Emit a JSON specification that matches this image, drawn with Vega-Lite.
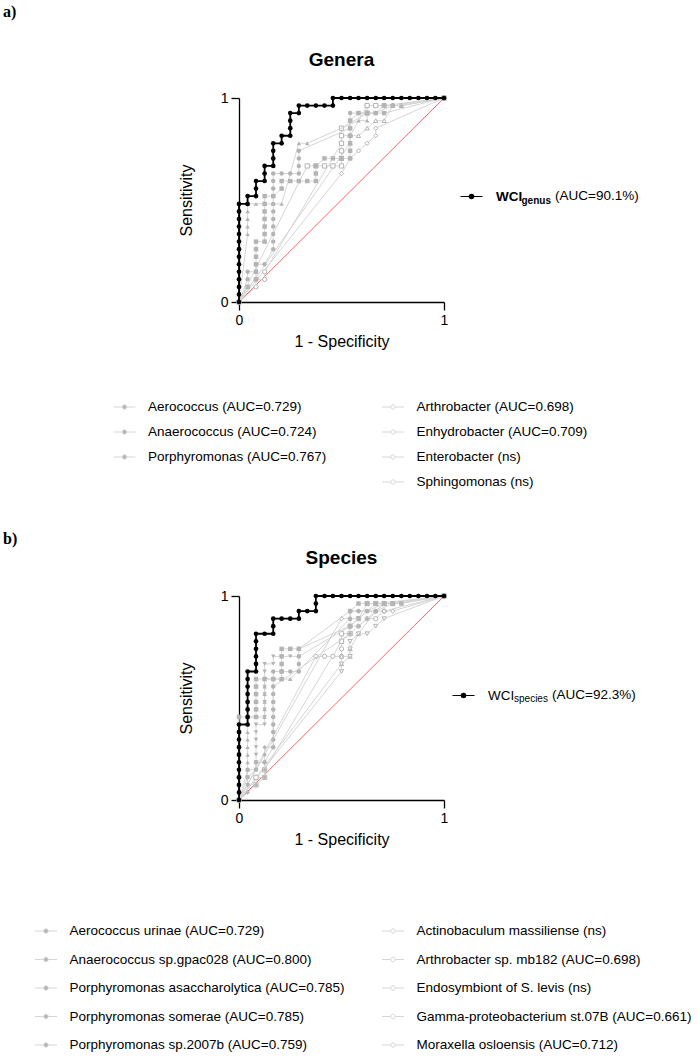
{
"$schema": "https://vega.github.io/schema/vega-lite/v6.json",
"padding": {"left": 3, "top": 4, "right": 0, "bottom": 0},
"background": "white",
"config": {
  "font": "Liberation Sans",
  "view": {"stroke": null},
  "axis": {"grid": false, "domainColor": "black", "domainWidth": 1.3, "tickColor": "black", "tickWidth": 1.3, "tickSize": 8, "labelPadding": 3, "labelFont": "Liberation Sans", "labelFontSize": 14, "labelColor": "black", "labelFlush": false, "labelOverlap": false, "titleFont": "Liberation Sans", "titleFontSize": 16, "titleFontWeight": "normal", "titleColor": "black"},
  "axisX": {"titlePadding": 6},
  "axisY": {"titlePadding": 26},
  "legend": {"padding": 0, "labelFont": "Liberation Sans", "labelFontSize": 13.5, "labelColor": "black", "labelLimit": 400, "labelOffset": 12, "columns": 1, "direction": "vertical", "symbolOpacity": 1}
},
"datasets": {
"names": [
 {"s":"aW","name":"WCI","grp":"aW"},
 {"s":"aL1","name":"Aerococcus (AUC=0.729)","grp":"aL"},
 {"s":"aL2","name":"Anaerococcus (AUC=0.724)","grp":"aL"},
 {"s":"aL3","name":"Porphyromonas (AUC=0.767)","grp":"aL"},
 {"s":"aR1","name":"Arthrobacter (AUC=0.698)","grp":"aR"},
 {"s":"aR2","name":"Enhydrobacter (AUC=0.709)","grp":"aR"},
 {"s":"aR3","name":"Enterobacter (ns)","grp":"aR"},
 {"s":"aR4","name":"Sphingomonas (ns)","grp":"aR"},
 {"s":"bW","name":"WCI","grp":"bW"},
 {"s":"bL1","name":"Aerococcus urinae (AUC=0.729)","grp":"bL"},
 {"s":"bL2","name":"Anaerococcus sp.gpac028 (AUC=0.800)","grp":"bL"},
 {"s":"bL3","name":"Porphyromonas asaccharolytica (AUC=0.785)","grp":"bL"},
 {"s":"bL4","name":"Porphyromonas somerae (AUC=0.785)","grp":"bL"},
 {"s":"bL5","name":"Porphyromonas sp.2007b (AUC=0.759)","grp":"bL"},
 {"s":"bR1","name":"Actinobaculum massiliense (ns)","grp":"bR"},
 {"s":"bR2","name":"Arthrobacter sp. mb182 (AUC=0.698)","grp":"bR"},
 {"s":"bR3","name":"Endosymbiont of S. levis (ns)","grp":"bR"},
 {"s":"bR4","name":"Gamma-proteobacterium st.07B (AUC=0.661)","grp":"bR"},
 {"s":"bR5","name":"Moraxella osloensis (AUC=0.712)","grp":"bR"}
],
"pts": [
{"s":"aW","x":0,"y":0},{"s":"aW","x":0,"y":0.037},{"s":"aW","x":0,"y":0.074},{"s":"aW","x":0,"y":0.111},{"s":"aW","x":0,"y":0.148},{"s":"aW","x":0,"y":0.185},{"s":"aW","x":0,"y":0.222},{"s":"aW","x":0,"y":0.259},{"s":"aW","x":0,"y":0.296},{"s":"aW","x":0,"y":0.333},{"s":"aW","x":0,"y":0.37},{"s":"aW","x":0,"y":0.407},{"s":"aW","x":0,"y":0.444},{"s":"aW","x":0,"y":0.481},
{"s":"aW","x":0.042,"y":0.481},{"s":"aW","x":0.042,"y":0.519},
{"s":"aW","x":0.083,"y":0.519},{"s":"aW","x":0.083,"y":0.556},{"s":"aW","x":0.083,"y":0.593},
{"s":"aW","x":0.125,"y":0.593},{"s":"aW","x":0.125,"y":0.63},{"s":"aW","x":0.125,"y":0.667},
{"s":"aW","x":0.167,"y":0.667},{"s":"aW","x":0.167,"y":0.704},{"s":"aW","x":0.167,"y":0.741},{"s":"aW","x":0.167,"y":0.778},
{"s":"aW","x":0.208,"y":0.778},{"s":"aW","x":0.208,"y":0.815},
{"s":"aW","x":0.25,"y":0.815},{"s":"aW","x":0.25,"y":0.852},{"s":"aW","x":0.25,"y":0.889},{"s":"aW","x":0.25,"y":0.926},
{"s":"aW","x":0.292,"y":0.926},{"s":"aW","x":0.292,"y":0.963},
{"s":"aW","x":0.333,"y":0.963},{"s":"aW","x":0.375,"y":0.963},{"s":"aW","x":0.417,"y":0.963},{"s":"aW","x":0.458,"y":0.963},{"s":"aW","x":0.458,"y":1},
{"s":"aW","x":0.5,"y":1},{"s":"aW","x":0.542,"y":1},{"s":"aW","x":0.583,"y":1},{"s":"aW","x":0.625,"y":1},{"s":"aW","x":0.667,"y":1},{"s":"aW","x":0.708,"y":1},{"s":"aW","x":0.75,"y":1},{"s":"aW","x":0.792,"y":1},{"s":"aW","x":0.833,"y":1},{"s":"aW","x":0.875,"y":1},{"s":"aW","x":0.917,"y":1},{"s":"aW","x":0.958,"y":1},{"s":"aW","x":1,"y":1},

{"s":"aL1","x":0,"y":0},{"s":"aL1","x":0.042,"y":0.111},{"s":"aL1","x":0.042,"y":0.148},{"s":"aL1","x":0.083,"y":0.148},{"s":"aL1","x":0.083,"y":0.185},{"s":"aL1","x":0.125,"y":0.185},{"s":"aL1","x":0.167,"y":0.259},{"s":"aL1","x":0.167,"y":0.296},{"s":"aL1","x":0.167,"y":0.333},{"s":"aL1","x":0.167,"y":0.37},{"s":"aL1","x":0.167,"y":0.407},{"s":"aL1","x":0.167,"y":0.444},{"s":"aL1","x":0.167,"y":0.481},{"s":"aL1","x":0.167,"y":0.519},{"s":"aL1","x":0.167,"y":0.556},{"s":"aL1","x":0.167,"y":0.593},{"s":"aL1","x":0.167,"y":0.63},{"s":"aL1","x":0.208,"y":0.63},{"s":"aL1","x":0.25,"y":0.63},{"s":"aL1","x":0.292,"y":0.63},{"s":"aL1","x":0.292,"y":0.667},{"s":"aL1","x":0.292,"y":0.704},{"s":"aL1","x":0.292,"y":0.741},{"s":"aL1","x":0.542,"y":0.852},{"s":"aL1","x":0.542,"y":0.889},{"s":"aL1","x":0.542,"y":0.926},{"s":"aL1","x":0.583,"y":0.926},{"s":"aL1","x":0.625,"y":0.926},{"s":"aL1","x":0.667,"y":0.926},{"s":"aL1","x":0.708,"y":0.963},{"s":"aL1","x":0.75,"y":0.963},{"s":"aL1","x":1,"y":1},

{"s":"aL2","x":0,"y":0},{"s":"aL2","x":0.042,"y":0.074},{"s":"aL2","x":0.083,"y":0.111},{"s":"aL2","x":0.083,"y":0.148},{"s":"aL2","x":0.083,"y":0.185},{"s":"aL2","x":0.083,"y":0.222},{"s":"aL2","x":0.083,"y":0.259},{"s":"aL2","x":0.083,"y":0.296},{"s":"aL2","x":0.125,"y":0.296},{"s":"aL2","x":0.125,"y":0.333},{"s":"aL2","x":0.125,"y":0.37},{"s":"aL2","x":0.125,"y":0.407},{"s":"aL2","x":0.125,"y":0.444},{"s":"aL2","x":0.125,"y":0.481},{"s":"aL2","x":0.125,"y":0.519},{"s":"aL2","x":0.167,"y":0.519},{"s":"aL2","x":0.208,"y":0.556},{"s":"aL2","x":0.208,"y":0.593},{"s":"aL2","x":0.25,"y":0.593},{"s":"aL2","x":0.292,"y":0.593},{"s":"aL2","x":0.333,"y":0.593},{"s":"aL2","x":0.375,"y":0.593},{"s":"aL2","x":0.375,"y":0.63},{"s":"aL2","x":0.375,"y":0.667},{"s":"aL2","x":0.417,"y":0.704},{"s":"aL2","x":0.458,"y":0.704},{"s":"aL2","x":0.5,"y":0.704},{"s":"aL2","x":0.542,"y":0.704},{"s":"aL2","x":0.542,"y":0.741},{"s":"aL2","x":0.542,"y":0.778},{"s":"aL2","x":0.542,"y":0.815},{"s":"aL2","x":0.542,"y":0.852},{"s":"aL2","x":0.542,"y":0.889},{"s":"aL2","x":0.583,"y":0.926},{"s":"aL2","x":0.625,"y":0.926},{"s":"aL2","x":0.667,"y":0.926},{"s":"aL2","x":0.708,"y":0.926},{"s":"aL2","x":1,"y":1},

{"s":"aL3","x":0,"y":0},{"s":"aL3","x":0.042,"y":0.333},{"s":"aL3","x":0.042,"y":0.37},{"s":"aL3","x":0.042,"y":0.407},{"s":"aL3","x":0.042,"y":0.444},{"s":"aL3","x":0.042,"y":0.481},{"s":"aL3","x":0.083,"y":0.481},{"s":"aL3","x":0.125,"y":0.481},{"s":"aL3","x":0.167,"y":0.481},{"s":"aL3","x":0.208,"y":0.481},{"s":"aL3","x":0.292,"y":0.778},{"s":"aL3","x":0.333,"y":0.778},{"s":"aL3","x":0.583,"y":0.889},{"s":"aL3","x":0.625,"y":0.889},{"s":"aL3","x":0.625,"y":0.926},{"s":"aL3","x":0.667,"y":0.926},{"s":"aL3","x":0.75,"y":0.963},{"s":"aL3","x":0.792,"y":0.963},{"s":"aL3","x":1,"y":1},

{"s":"aR1","x":0,"y":0},{"s":"aR1","x":0.083,"y":0.074},{"s":"aR1","x":0.083,"y":0.111},{"s":"aR1","x":0.125,"y":0.111},{"s":"aR1","x":0.125,"y":0.148},{"s":"aR1","x":0.5,"y":0.778},{"s":"aR1","x":0.5,"y":0.815},{"s":"aR1","x":0.542,"y":0.815},{"s":"aR1","x":0.625,"y":0.963},{"s":"aR1","x":0.667,"y":0.963},{"s":"aR1","x":0.708,"y":0.963},{"s":"aR1","x":0.75,"y":0.963},{"s":"aR1","x":0.792,"y":0.963},{"s":"aR1","x":1,"y":1},

{"s":"aR2","x":0,"y":0},{"s":"aR2","x":0.333,"y":0.667},{"s":"aR2","x":0.375,"y":0.667},{"s":"aR2","x":0.417,"y":0.667},{"s":"aR2","x":0.458,"y":0.667},{"s":"aR2","x":0.5,"y":0.667},{"s":"aR2","x":0.5,"y":0.704},{"s":"aR2","x":0.5,"y":0.741},{"s":"aR2","x":0.5,"y":0.778},{"s":"aR2","x":0.5,"y":0.815},{"s":"aR2","x":0.5,"y":0.852},{"s":"aR2","x":0.625,"y":0.926},{"s":"aR2","x":0.625,"y":0.963},{"s":"aR2","x":0.667,"y":0.963},{"s":"aR2","x":0.708,"y":0.963},{"s":"aR2","x":1,"y":1},

{"s":"aR3","x":0,"y":0},{"s":"aR3","x":0.542,"y":0.778},{"s":"aR3","x":0.542,"y":0.815},{"s":"aR3","x":0.583,"y":0.815},{"s":"aR3","x":0.625,"y":0.852},{"s":"aR3","x":0.667,"y":0.889},{"s":"aR3","x":0.708,"y":0.889},{"s":"aR3","x":0.75,"y":0.963},{"s":"aR3","x":0.792,"y":0.963},{"s":"aR3","x":1,"y":1},

{"s":"aR4","x":0,"y":0},{"s":"aR4","x":0.5,"y":0.63},{"s":"aR4","x":0.542,"y":0.704},{"s":"aR4","x":0.583,"y":0.741},{"s":"aR4","x":0.625,"y":0.778},{"s":"aR4","x":0.667,"y":0.815},{"s":"aR4","x":0.667,"y":0.852},{"s":"aR4","x":1,"y":1},

{"s":"bW","x":0,"y":0},{"s":"bW","x":0,"y":0.037},{"s":"bW","x":0,"y":0.074},{"s":"bW","x":0,"y":0.111},{"s":"bW","x":0,"y":0.148},{"s":"bW","x":0,"y":0.185},{"s":"bW","x":0,"y":0.222},{"s":"bW","x":0,"y":0.259},{"s":"bW","x":0,"y":0.296},{"s":"bW","x":0,"y":0.333},{"s":"bW","x":0,"y":0.37},
{"s":"bW","x":0.042,"y":0.37},{"s":"bW","x":0.042,"y":0.407},{"s":"bW","x":0.042,"y":0.444},{"s":"bW","x":0.042,"y":0.481},{"s":"bW","x":0.042,"y":0.519},{"s":"bW","x":0.042,"y":0.556},{"s":"bW","x":0.042,"y":0.593},{"s":"bW","x":0.042,"y":0.63},
{"s":"bW","x":0.083,"y":0.63},{"s":"bW","x":0.083,"y":0.667},{"s":"bW","x":0.083,"y":0.704},{"s":"bW","x":0.083,"y":0.741},{"s":"bW","x":0.083,"y":0.778},{"s":"bW","x":0.083,"y":0.815},
{"s":"bW","x":0.125,"y":0.815},{"s":"bW","x":0.167,"y":0.815},{"s":"bW","x":0.167,"y":0.852},{"s":"bW","x":0.167,"y":0.889},
{"s":"bW","x":0.208,"y":0.889},{"s":"bW","x":0.25,"y":0.889},{"s":"bW","x":0.292,"y":0.889},{"s":"bW","x":0.292,"y":0.926},
{"s":"bW","x":0.333,"y":0.926},{"s":"bW","x":0.375,"y":0.926},{"s":"bW","x":0.375,"y":0.963},{"s":"bW","x":0.375,"y":1},
{"s":"bW","x":0.417,"y":1},{"s":"bW","x":0.458,"y":1},{"s":"bW","x":0.5,"y":1},{"s":"bW","x":0.542,"y":1},{"s":"bW","x":0.583,"y":1},{"s":"bW","x":0.625,"y":1},{"s":"bW","x":0.667,"y":1},{"s":"bW","x":0.708,"y":1},{"s":"bW","x":0.75,"y":1},{"s":"bW","x":0.792,"y":1},{"s":"bW","x":0.833,"y":1},{"s":"bW","x":0.875,"y":1},{"s":"bW","x":0.917,"y":1},{"s":"bW","x":0.958,"y":1},{"s":"bW","x":1,"y":1},

{"s":"bL1","x":0,"y":0},{"s":"bL1","x":0.042,"y":0.111},{"s":"bL1","x":0.042,"y":0.148},{"s":"bL1","x":0.083,"y":0.148},{"s":"bL1","x":0.083,"y":0.185},{"s":"bL1","x":0.125,"y":0.185},{"s":"bL1","x":0.167,"y":0.259},{"s":"bL1","x":0.167,"y":0.296},{"s":"bL1","x":0.167,"y":0.333},{"s":"bL1","x":0.167,"y":0.37},{"s":"bL1","x":0.167,"y":0.407},{"s":"bL1","x":0.167,"y":0.444},{"s":"bL1","x":0.167,"y":0.481},{"s":"bL1","x":0.167,"y":0.519},{"s":"bL1","x":0.167,"y":0.556},{"s":"bL1","x":0.167,"y":0.593},{"s":"bL1","x":0.167,"y":0.63},{"s":"bL1","x":0.208,"y":0.63},{"s":"bL1","x":0.25,"y":0.63},{"s":"bL1","x":0.292,"y":0.63},{"s":"bL1","x":0.292,"y":0.667},{"s":"bL1","x":0.292,"y":0.704},{"s":"bL1","x":0.292,"y":0.741},{"s":"bL1","x":0.542,"y":0.852},{"s":"bL1","x":0.542,"y":0.889},{"s":"bL1","x":0.542,"y":0.926},{"s":"bL1","x":0.583,"y":0.926},{"s":"bL1","x":0.625,"y":0.926},{"s":"bL1","x":0.667,"y":0.926},{"s":"bL1","x":0.708,"y":0.963},{"s":"bL1","x":0.75,"y":0.963},{"s":"bL1","x":1,"y":1},

{"s":"bL2","x":0,"y":0},{"s":"bL2","x":0,"y":0.111},{"s":"bL2","x":0,"y":0.222},{"s":"bL2","x":0,"y":0.333},{"s":"bL2","x":0,"y":0.407},{"s":"bL2","x":0.042,"y":0.407},{"s":"bL2","x":0.083,"y":0.407},{"s":"bL2","x":0.083,"y":0.444},{"s":"bL2","x":0.083,"y":0.481},{"s":"bL2","x":0.083,"y":0.519},{"s":"bL2","x":0.083,"y":0.556},{"s":"bL2","x":0.083,"y":0.593},{"s":"bL2","x":0.125,"y":0.593},{"s":"bL2","x":0.167,"y":0.593},{"s":"bL2","x":0.208,"y":0.593},{"s":"bL2","x":0.208,"y":0.63},{"s":"bL2","x":0.208,"y":0.667},{"s":"bL2","x":0.208,"y":0.704},{"s":"bL2","x":0.208,"y":0.741},{"s":"bL2","x":0.25,"y":0.741},{"s":"bL2","x":0.292,"y":0.741},{"s":"bL2","x":0.542,"y":0.926},{"s":"bL2","x":0.583,"y":0.963},{"s":"bL2","x":0.625,"y":0.963},{"s":"bL2","x":0.667,"y":0.963},{"s":"bL2","x":0.708,"y":0.963},{"s":"bL2","x":0.75,"y":0.963},{"s":"bL2","x":0.792,"y":0.963},{"s":"bL2","x":1,"y":1},

{"s":"bL3","x":0,"y":0},{"s":"bL3","x":0.042,"y":0.148},{"s":"bL3","x":0.042,"y":0.185},{"s":"bL3","x":0.042,"y":0.222},{"s":"bL3","x":0.042,"y":0.259},{"s":"bL3","x":0.042,"y":0.296},{"s":"bL3","x":0.042,"y":0.333},{"s":"bL3","x":0.042,"y":0.37},{"s":"bL3","x":0.042,"y":0.407},{"s":"bL3","x":0.083,"y":0.407},{"s":"bL3","x":0.125,"y":0.407},{"s":"bL3","x":0.125,"y":0.444},{"s":"bL3","x":0.125,"y":0.481},{"s":"bL3","x":0.125,"y":0.519},{"s":"bL3","x":0.125,"y":0.556},{"s":"bL3","x":0.125,"y":0.593},{"s":"bL3","x":0.167,"y":0.593},{"s":"bL3","x":0.208,"y":0.593},{"s":"bL3","x":0.25,"y":0.593},{"s":"bL3","x":0.542,"y":0.889},{"s":"bL3","x":0.583,"y":0.889},{"s":"bL3","x":0.625,"y":0.926},{"s":"bL3","x":0.667,"y":0.963},{"s":"bL3","x":1,"y":1},

{"s":"bL4","x":0,"y":0},{"s":"bL4","x":0.042,"y":0.074},{"s":"bL4","x":0.042,"y":0.111},{"s":"bL4","x":0.083,"y":0.148},{"s":"bL4","x":0.083,"y":0.185},{"s":"bL4","x":0.083,"y":0.222},{"s":"bL4","x":0.083,"y":0.259},{"s":"bL4","x":0.083,"y":0.296},{"s":"bL4","x":0.083,"y":0.333},{"s":"bL4","x":0.083,"y":0.37},{"s":"bL4","x":0.125,"y":0.37},{"s":"bL4","x":0.125,"y":0.407},{"s":"bL4","x":0.125,"y":0.444},{"s":"bL4","x":0.125,"y":0.481},{"s":"bL4","x":0.125,"y":0.519},{"s":"bL4","x":0.125,"y":0.556},{"s":"bL4","x":0.125,"y":0.593},{"s":"bL4","x":0.125,"y":0.63},{"s":"bL4","x":0.125,"y":0.667},{"s":"bL4","x":0.167,"y":0.667},{"s":"bL4","x":0.167,"y":0.704},{"s":"bL4","x":0.208,"y":0.704},{"s":"bL4","x":0.25,"y":0.704},{"s":"bL4","x":0.292,"y":0.704},{"s":"bL4","x":0.542,"y":0.852},{"s":"bL4","x":0.583,"y":0.889},{"s":"bL4","x":0.625,"y":0.926},{"s":"bL4","x":0.708,"y":0.963},{"s":"bL4","x":1,"y":1},

{"s":"bL5","x":0,"y":0},{"s":"bL5","x":0.042,"y":0.037},{"s":"bL5","x":0.042,"y":0.074},{"s":"bL5","x":0.083,"y":0.074},{"s":"bL5","x":0.125,"y":0.111},{"s":"bL5","x":0.125,"y":0.148},{"s":"bL5","x":0.125,"y":0.185},{"s":"bL5","x":0.125,"y":0.222},{"s":"bL5","x":0.125,"y":0.259},{"s":"bL5","x":0.167,"y":0.259},{"s":"bL5","x":0.167,"y":0.296},{"s":"bL5","x":0.167,"y":0.333},{"s":"bL5","x":0.167,"y":0.37},{"s":"bL5","x":0.167,"y":0.407},{"s":"bL5","x":0.167,"y":0.444},{"s":"bL5","x":0.167,"y":0.481},{"s":"bL5","x":0.167,"y":0.519},{"s":"bL5","x":0.167,"y":0.556},{"s":"bL5","x":0.542,"y":0.815},{"s":"bL5","x":0.542,"y":0.852},{"s":"bL5","x":0.583,"y":0.852},{"s":"bL5","x":0.625,"y":0.889},{"s":"bL5","x":0.667,"y":0.926},{"s":"bL5","x":0.75,"y":0.963},{"s":"bL5","x":1,"y":1},

{"s":"bR1","x":0,"y":0},{"s":"bR1","x":0.375,"y":0.704},{"s":"bR1","x":0.417,"y":0.704},{"s":"bR1","x":0.458,"y":0.704},{"s":"bR1","x":0.5,"y":0.704},{"s":"bR1","x":0.5,"y":0.741},{"s":"bR1","x":0.5,"y":0.778},{"s":"bR1","x":0.542,"y":0.815},{"s":"bR1","x":0.583,"y":0.852},{"s":"bR1","x":0.625,"y":0.889},{"s":"bR1","x":0.667,"y":0.889},{"s":"bR1","x":0.708,"y":0.926},{"s":"bR1","x":1,"y":1},

{"s":"bR2","x":0,"y":0},{"s":"bR2","x":0.083,"y":0.074},{"s":"bR2","x":0.083,"y":0.111},{"s":"bR2","x":0.125,"y":0.111},{"s":"bR2","x":0.125,"y":0.148},{"s":"bR2","x":0.5,"y":0.778},{"s":"bR2","x":0.5,"y":0.815},{"s":"bR2","x":0.542,"y":0.815},{"s":"bR2","x":0.542,"y":0.852},{"s":"bR2","x":0.583,"y":0.889},{"s":"bR2","x":0.625,"y":0.963},{"s":"bR2","x":0.667,"y":0.963},{"s":"bR2","x":0.708,"y":0.963},{"s":"bR2","x":0.75,"y":0.963},{"s":"bR2","x":1,"y":1},

{"s":"bR3","x":0,"y":0},{"s":"bR3","x":0.5,"y":0.667},{"s":"bR3","x":0.5,"y":0.704},{"s":"bR3","x":0.542,"y":0.704},{"s":"bR3","x":0.542,"y":0.741},{"s":"bR3","x":0.583,"y":0.815},{"s":"bR3","x":0.667,"y":0.926},{"s":"bR3","x":0.708,"y":0.963},{"s":"bR3","x":1,"y":1},

{"s":"bR4","x":0,"y":0},{"s":"bR4","x":0.5,"y":0.63},{"s":"bR4","x":0.5,"y":0.667},{"s":"bR4","x":0.542,"y":0.704},{"s":"bR4","x":0.542,"y":0.741},{"s":"bR4","x":0.542,"y":0.778},{"s":"bR4","x":0.583,"y":0.815},{"s":"bR4","x":0.625,"y":0.815},{"s":"bR4","x":0.667,"y":0.852},{"s":"bR4","x":0.708,"y":0.889},{"s":"bR4","x":1,"y":1},

{"s":"bR5","x":0,"y":0},{"s":"bR5","x":0.5,"y":0.889},{"s":"bR5","x":0.542,"y":0.889},{"s":"bR5","x":0.542,"y":0.926},{"s":"bR5","x":0.583,"y":0.926},{"s":"bR5","x":0.625,"y":0.926},{"s":"bR5","x":0.667,"y":0.926},{"s":"bR5","x":0.708,"y":0.926},{"s":"bR5","x":0.75,"y":0.926},{"s":"bR5","x":1,"y":1}
]
},
"spacing": 294,
"bounds": "flush",
"vconcat": [
{
 "width": 205, "height": 204,
 "layer": [
   {"data": {"values": [{}]}, "mark": {"type": "rule", "color": "#ff3c3c", "strokeWidth": 0.8},
    "encoding": {"x": {"datum": 0, "type": "quantitative", "scale": {"domain": [0, 1], "nice": false, "zero": false}}, "y": {"datum": 0, "type": "quantitative", "scale": {"domain": [0, 1], "nice": false, "zero": false}}, "x2": {"datum": 1}, "y2": {"datum": 1}}},
   {"data": {"name": "pts"},
    "transform": [{"lookup": "s", "from": {"data": {"name": "names"}, "key": "s", "fields": ["name", "grp"]}}, {"filter": "datum.grp === 'aR'"}],
    "encoding": {
      "x": {"field": "x", "type": "quantitative", "scale": {"domain": [0, 1], "nice": false, "zero": false}, "axis": {"values": [0, 1], "format": "d", "title": "1 - Specificity"}},
      "y": {"field": "y", "type": "quantitative", "scale": {"domain": [0, 1], "nice": false, "zero": false}, "axis": {"values": [0, 1], "format": "d", "title": "Sensitivity"}}
    },
    "layer": [
      {"mark": {"type": "line", "strokeWidth": 1},
       "encoding": {"color": {"field": "name", "type": "nominal",
          "scale": {"domain": ["Arthrobacter (AUC=0.698)", "Enhydrobacter (AUC=0.709)", "Enterobacter (ns)", "Sphingomonas (ns)"], "range": ["#d6d6d6", "#d6d6d6", "#d6d6d6", "#d6d6d6"]},
          "legend": {"title": null, "orient": "none", "legendX": 142.5, "legendY": 297.5, "rowPadding": -2, "symbolType": "M0,-1M0,1M-1,0H-0.2M0.2,0H1M-0.2,0A0.2,0.2 0 1 1 0.2,0A0.2,0.2 0 1 1 -0.2,0Z", "symbolSize": 484, "symbolStrokeWidth": 1, "symbolFillColor": "white", "labelOffset": 12}},
         "order": {"value": null}}},
      {"mark": {"type": "point", "filled": true, "fill": "white", "stroke": "#b4b4b4", "strokeWidth": 1, "size": 18, "opacity": 1},
       "encoding": {"shape": {"field": "s", "type": "nominal", "scale": {"domain": ["aR1", "aR2", "aR3", "aR4"], "range": ["circle", "square", "triangle-up", "diamond"]}, "legend": null}}}
    ]},
   {"data": {"name": "pts"},
    "transform": [{"lookup": "s", "from": {"data": {"name": "names"}, "key": "s", "fields": ["name", "grp"]}}, {"filter": "datum.grp === 'aL'"}],
    "encoding": {
      "x": {"field": "x", "type": "quantitative", "scale": {"domain": [0, 1], "nice": false, "zero": false}, "axis": {"values": [0, 1], "format": "d", "title": "1 - Specificity"}},
      "y": {"field": "y", "type": "quantitative", "scale": {"domain": [0, 1], "nice": false, "zero": false}, "axis": {"values": [0, 1], "format": "d", "title": "Sensitivity"}}
    },
    "layer": [
      {"mark": {"type": "line", "strokeWidth": 1},
       "encoding": {"color": {"field": "name", "type": "nominal",
          "scale": {"domain": ["Aerococcus (AUC=0.729)", "Anaerococcus (AUC=0.724)", "Porphyromonas (AUC=0.767)"], "range": ["#d6d6d6", "#d6d6d6", "#d6d6d6"]},
          "legend": {"title": null, "orient": "none", "legendX": -126, "legendY": 297.5, "rowPadding": -2, "symbolType": "M0,-1M0,1M-1,0H-0.2M0.2,0H1M-0.2,0A0.2,0.2 0 1 1 0.2,0A0.2,0.2 0 1 1 -0.2,0Z", "symbolSize": 484, "symbolStrokeWidth": 1, "symbolFillColor": "#b4b4b4", "labelOffset": 12}},
         "order": {"value": null}}},
      {"mark": {"type": "point", "filled": true, "fill": "#b4b4b4", "size": 20, "opacity": 1},
       "encoding": {"shape": {"field": "s", "type": "nominal", "scale": {"domain": ["aL1", "aL2", "aL3"], "range": ["circle", "square", "triangle-up"]}, "legend": null}}}
    ]},
   {"data": {"name": "pts"},
    "transform": [{"lookup": "s", "from": {"data": {"name": "names"}, "key": "s", "fields": ["name", "grp"]}}, {"filter": "datum.grp === 'aW'"}],
    "encoding": {
      "x": {"field": "x", "type": "quantitative", "scale": {"domain": [0, 1], "nice": false, "zero": false}, "axis": {"values": [0, 1], "format": "d", "title": "1 - Specificity"}},
      "y": {"field": "y", "type": "quantitative", "scale": {"domain": [0, 1], "nice": false, "zero": false}, "axis": {"values": [0, 1], "format": "d", "title": "Sensitivity"}},
      "color": {"field": "name", "type": "nominal", "scale": {"domain": ["WCI"], "range": ["black"]},
       "legend": {"title": null, "orient": "none", "legendX": 220.5, "legendY": 86.5, "labelFontWeight": "bold", "labelOffset": 12.5, "symbolType": "M0,-1M0,1M-1,0H1M-0.2,0A0.2,0.2 0 1 1 0.2,0A0.2,0.2 0 1 1 -0.2,0Z", "symbolSize": 484, "symbolStrokeWidth": 1.2, "symbolFillColor": "black"}}},
    "layer": [
      {"mark": {"type": "line", "strokeWidth": 1.8}, "encoding": {"order": {"value": null}}},
      {"mark": {"type": "point", "filled": true, "size": 22, "opacity": 1}}
    ]},
   {"data": {"values": [{}]}, "mark": {"type": "text", "text": "a)", "font": "Liberation Serif", "fontSize": 16, "fontWeight": "bold", "align": "left", "baseline": "alphabetic", "color": "black"},
    "encoding": {"x": {"datum": -1.1512, "type": "quantitative", "scale": {"domain": [0, 1], "nice": false, "zero": false}}, "y": {"datum": 1.397, "type": "quantitative", "scale": {"domain": [0, 1], "nice": false, "zero": false}}}},
   {"data": {"values": [{}]}, "mark": {"type": "text", "text": "Genera", "fontSize": 19, "fontWeight": "bold", "align": "center", "baseline": "middle", "color": "black"},
    "encoding": {"x": {"datum": 0.5, "type": "quantitative", "scale": {"domain": [0, 1], "nice": false, "zero": false}}, "y": {"datum": 1.187, "type": "quantitative", "scale": {"domain": [0, 1], "nice": false, "zero": false}}}},
   {"data": {"values": [{}]}, "mark": {"type": "text", "text": "genus", "fontSize": 10, "fontWeight": "bold", "align": "left", "baseline": "alphabetic", "color": "black"},
    "encoding": {"x": {"datum": 1.378, "type": "quantitative", "scale": {"domain": [0, 1], "nice": false, "zero": false}}, "y": {"datum": 0.482, "type": "quantitative", "scale": {"domain": [0, 1], "nice": false, "zero": false}}}},
   {"data": {"values": [{}]}, "mark": {"type": "text", "text": "(AUC=90.1%)", "fontSize": 13.5, "align": "left", "baseline": "middle", "color": "black"},
    "encoding": {"x": {"datum": 1.5415, "type": "quantitative", "scale": {"domain": [0, 1], "nice": false, "zero": false}}, "y": {"datum": 0.5196, "type": "quantitative", "scale": {"domain": [0, 1], "nice": false, "zero": false}}}}
 ],
 "resolve": {"scale": {"color": "independent", "shape": "independent"}, "legend": {"color": "independent", "shape": "independent"}}
},
{
 "width": 205, "height": 204,
 "layer": [
   {"data": {"values": [{}]}, "mark": {"type": "rule", "color": "#ff3c3c", "strokeWidth": 0.8},
    "encoding": {"x": {"datum": 0, "type": "quantitative", "scale": {"domain": [0, 1], "nice": false, "zero": false}}, "y": {"datum": 0, "type": "quantitative", "scale": {"domain": [0, 1], "nice": false, "zero": false}}, "x2": {"datum": 1}, "y2": {"datum": 1}}},
   {"data": {"name": "pts"},
    "transform": [{"lookup": "s", "from": {"data": {"name": "names"}, "key": "s", "fields": ["name", "grp"]}}, {"filter": "datum.grp === 'bR'"}],
    "encoding": {
      "x": {"field": "x", "type": "quantitative", "scale": {"domain": [0, 1], "nice": false, "zero": false}, "axis": {"values": [0, 1], "format": "d", "title": "1 - Specificity"}},
      "y": {"field": "y", "type": "quantitative", "scale": {"domain": [0, 1], "nice": false, "zero": false}, "axis": {"values": [0, 1], "format": "d", "title": "Sensitivity"}}
    },
    "layer": [
      {"mark": {"type": "line", "strokeWidth": 1},
       "encoding": {"color": {"field": "name", "type": "nominal",
          "scale": {"domain": ["Actinobaculum massiliense (ns)", "Arthrobacter sp. mb182 (AUC=0.698)", "Endosymbiont of S. levis (ns)", "Gamma-proteobacterium st.07B (AUC=0.661)", "Moraxella osloensis (AUC=0.712)"], "range": ["#d6d6d6", "#d6d6d6", "#d6d6d6", "#d6d6d6", "#d6d6d6"]},
          "legend": {"title": null, "orient": "none", "legendX": 142.5, "legendY": 323.5, "rowPadding": 1.5, "symbolType": "M0,-1M0,1M-1,0H-0.2M0.2,0H1M-0.2,0A0.2,0.2 0 1 1 0.2,0A0.2,0.2 0 1 1 -0.2,0Z", "symbolSize": 484, "symbolStrokeWidth": 1, "symbolFillColor": "white", "labelOffset": 12}},
         "order": {"value": null}}},
      {"mark": {"type": "point", "filled": true, "fill": "white", "stroke": "#b4b4b4", "strokeWidth": 1, "size": 18, "opacity": 1},
       "encoding": {"shape": {"field": "s", "type": "nominal", "scale": {"domain": ["bR1", "bR2", "bR3", "bR4", "bR5"], "range": ["circle", "square", "triangle-up", "triangle-down", "diamond"]}, "legend": null}}}
    ]},
   {"data": {"name": "pts"},
    "transform": [{"lookup": "s", "from": {"data": {"name": "names"}, "key": "s", "fields": ["name", "grp"]}}, {"filter": "datum.grp === 'bL'"}],
    "encoding": {
      "x": {"field": "x", "type": "quantitative", "scale": {"domain": [0, 1], "nice": false, "zero": false}, "axis": {"values": [0, 1], "format": "d", "title": "1 - Specificity"}},
      "y": {"field": "y", "type": "quantitative", "scale": {"domain": [0, 1], "nice": false, "zero": false}, "axis": {"values": [0, 1], "format": "d", "title": "Sensitivity"}}
    },
    "layer": [
      {"mark": {"type": "line", "strokeWidth": 1},
       "encoding": {"color": {"field": "name", "type": "nominal",
          "scale": {"domain": ["Aerococcus urinae (AUC=0.729)", "Anaerococcus sp.gpac028 (AUC=0.800)", "Porphyromonas asaccharolytica (AUC=0.785)", "Porphyromonas somerae (AUC=0.785)", "Porphyromonas sp.2007b (AUC=0.759)"], "range": ["#d6d6d6", "#d6d6d6", "#d6d6d6", "#d6d6d6", "#d6d6d6"]},
          "legend": {"title": null, "orient": "none", "legendX": -204.5, "legendY": 323.5, "rowPadding": 1.5, "symbolType": "M0,-1M0,1M-1,0H-0.2M0.2,0H1M-0.2,0A0.2,0.2 0 1 1 0.2,0A0.2,0.2 0 1 1 -0.2,0Z", "symbolSize": 484, "symbolStrokeWidth": 1, "symbolFillColor": "#b4b4b4", "labelOffset": 12}},
         "order": {"value": null}}},
      {"mark": {"type": "point", "filled": true, "fill": "#b4b4b4", "size": 20, "opacity": 1},
       "encoding": {"shape": {"field": "s", "type": "nominal", "scale": {"domain": ["bL1", "bL2", "bL3", "bL4", "bL5"], "range": ["circle", "square", "triangle-up", "triangle-down", "diamond"]}, "legend": null}}}
    ]},
   {"data": {"name": "pts"},
    "transform": [{"lookup": "s", "from": {"data": {"name": "names"}, "key": "s", "fields": ["name", "grp"]}}, {"filter": "datum.grp === 'bW'"}],
    "encoding": {
      "x": {"field": "x", "type": "quantitative", "scale": {"domain": [0, 1], "nice": false, "zero": false}, "axis": {"values": [0, 1], "format": "d", "title": "1 - Specificity"}},
      "y": {"field": "y", "type": "quantitative", "scale": {"domain": [0, 1], "nice": false, "zero": false}, "axis": {"values": [0, 1], "format": "d", "title": "Sensitivity"}},
      "color": {"field": "name", "type": "nominal", "scale": {"domain": ["WCI"], "range": ["black"]},
       "legend": {"title": null, "orient": "none", "legendX": 212.5, "legendY": 87.5, "labelOffset": 12.5, "symbolType": "M0,-1M0,1M-1,0H1M-0.2,0A0.2,0.2 0 1 1 0.2,0A0.2,0.2 0 1 1 -0.2,0Z", "symbolSize": 484, "symbolStrokeWidth": 1.2, "symbolFillColor": "black"}}},
    "layer": [
      {"mark": {"type": "line", "strokeWidth": 1.8}, "encoding": {"order": {"value": null}}},
      {"mark": {"type": "point", "filled": true, "size": 22, "opacity": 1}}
    ]},
   {"data": {"values": [{}]}, "mark": {"type": "text", "text": "b)", "font": "Liberation Serif", "fontSize": 16, "fontWeight": "bold", "align": "left", "baseline": "alphabetic", "color": "black"},
    "encoding": {"x": {"datum": -1.1512, "type": "quantitative", "scale": {"domain": [0, 1], "nice": false, "zero": false}}, "y": {"datum": 1.255, "type": "quantitative", "scale": {"domain": [0, 1], "nice": false, "zero": false}}}},
   {"data": {"values": [{}]}, "mark": {"type": "text", "text": "Species", "fontSize": 19, "fontWeight": "bold", "align": "center", "baseline": "middle", "color": "black"},
    "encoding": {"x": {"datum": 0.5, "type": "quantitative", "scale": {"domain": [0, 1], "nice": false, "zero": false}}, "y": {"datum": 1.187, "type": "quantitative", "scale": {"domain": [0, 1], "nice": false, "zero": false}}}},
   {"data": {"values": [{}]}, "mark": {"type": "text", "text": "species", "fontSize": 10, "align": "left", "baseline": "alphabetic", "color": "black"},
    "encoding": {"x": {"datum": 1.3415, "type": "quantitative", "scale": {"domain": [0, 1], "nice": false, "zero": false}}, "y": {"datum": 0.478, "type": "quantitative", "scale": {"domain": [0, 1], "nice": false, "zero": false}}}},
   {"data": {"values": [{}]}, "mark": {"type": "text", "text": "(AUC=92.3%)", "fontSize": 13.5, "align": "left", "baseline": "middle", "color": "black"},
    "encoding": {"x": {"datum": 1.5268, "type": "quantitative", "scale": {"domain": [0, 1], "nice": false, "zero": false}}, "y": {"datum": 0.5147, "type": "quantitative", "scale": {"domain": [0, 1], "nice": false, "zero": false}}}}
 ],
 "resolve": {"scale": {"color": "independent", "shape": "independent"}, "legend": {"color": "independent", "shape": "independent"}}
}
]
}
